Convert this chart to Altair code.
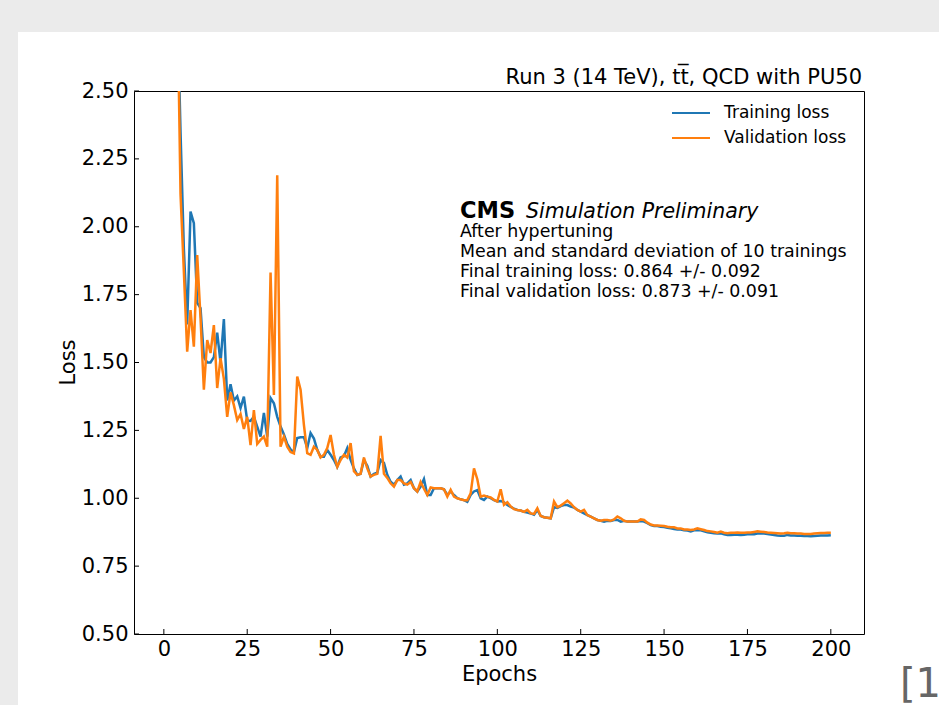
import altair as alt
import pandas as pd

epochs = list(range(1, 201))

train_loss = [
    6.0, 4.2, 3.3, 2.85, 2.35, 1.92, 1.64, 2.056, 2.013, 1.72,
    1.70, 1.52, 1.50, 1.50, 1.52, 1.61, 1.50, 1.66, 1.36, 1.42,
    1.36, 1.375, 1.332, 1.374, 1.286, 1.285, 1.30, 1.264, 1.227, 1.314,
    1.227, 1.369, 1.35, 1.30, 1.264, 1.235, 1.20, 1.18, 1.17, 1.222,
    1.225, 1.225, 1.185, 1.24, 1.22, 1.178, 1.153, 1.153, 1.178, 1.16,
    1.141, 1.116, 1.15, 1.155, 1.185, 1.141, 1.11, 1.086, 1.09, 1.141,
    1.12, 1.08, 1.09, 1.094, 1.141, 1.13, 1.086, 1.061, 1.05, 1.067,
    1.08, 1.05, 1.055, 1.067, 1.037, 1.025, 1.043, 1.071, 1.012, 1.012,
    1.037, 1.037, 1.037, 1.033, 1.012, 1.025, 1.012, 1.0, 0.996, 0.993,
    0.987, 1.012, 1.025, 1.03, 1.0, 0.994, 1.006, 1.0, 0.993, 0.988,
    0.99, 0.985, 0.975, 0.968, 0.962, 0.957, 0.955, 0.95, 0.947, 0.944,
    0.939, 0.957, 0.935, 0.930, 0.928, 0.926, 0.967, 0.964, 0.971, 0.975,
    0.975, 0.969, 0.966, 0.957, 0.951, 0.944, 0.938, 0.932, 0.926, 0.920,
    0.917, 0.914, 0.917, 0.916, 0.920, 0.920, 0.914, 0.917, 0.914, 0.914,
    0.914, 0.914, 0.916, 0.914, 0.908, 0.901, 0.898, 0.898, 0.895, 0.894,
    0.891, 0.889, 0.887, 0.885, 0.885, 0.882, 0.881, 0.878, 0.882, 0.883,
    0.882, 0.878, 0.875, 0.873, 0.871, 0.870, 0.871, 0.867, 0.865, 0.865,
    0.866, 0.866, 0.865, 0.866, 0.867, 0.867, 0.867, 0.870, 0.870, 0.870,
    0.868, 0.866, 0.865, 0.863, 0.862, 0.862, 0.865, 0.863, 0.863, 0.862,
    0.862, 0.861, 0.861, 0.860, 0.861, 0.862, 0.863, 0.863, 0.863, 0.864,
]

val_loss = [
    5.8, 4.0, 3.2, 2.9, 2.12, 1.835, 1.54, 1.693, 1.558, 1.896,
    1.663, 1.40, 1.583, 1.535, 1.638, 1.406, 1.516, 1.44, 1.30, 1.39,
    1.343, 1.288, 1.31, 1.255, 1.30, 1.196, 1.325, 1.20, 1.215, 1.227,
    1.19, 1.831, 1.38, 2.19, 1.19, 1.227, 1.19, 1.17, 1.165, 1.448,
    1.40, 1.27, 1.166, 1.16, 1.19, 1.178, 1.15, 1.16, 1.185, 1.233,
    1.16, 1.116, 1.141, 1.16, 1.15, 1.203, 1.10, 1.086, 1.09, 1.15,
    1.11, 1.08, 1.086, 1.09, 1.23, 1.09, 1.075, 1.055, 1.043, 1.067,
    1.067, 1.055, 1.05, 1.06, 1.037, 1.025, 1.06, 1.035, 1.012, 1.04,
    1.037, 1.037, 1.037, 1.033, 1.006, 1.031, 1.006, 1.0, 0.996, 0.993,
    0.993, 1.018, 1.11, 1.07, 1.006, 1.01, 1.006, 1.003, 0.994, 0.988,
    1.033, 0.976, 0.985, 0.97, 0.96, 0.957, 0.955, 0.95, 0.957, 0.944,
    0.942, 0.963, 0.935, 0.930, 0.928, 0.926, 0.988, 0.967, 0.973, 0.982,
    0.991, 0.981, 0.967, 0.957, 0.951, 0.957, 0.938, 0.932, 0.926, 0.920,
    0.917, 0.920, 0.920, 0.917, 0.922, 0.933, 0.926, 0.917, 0.914, 0.914,
    0.914, 0.914, 0.922, 0.920, 0.910, 0.903, 0.900, 0.900, 0.899, 0.898,
    0.895, 0.893, 0.893, 0.889, 0.889, 0.885, 0.885, 0.883, 0.885, 0.889,
    0.886, 0.883, 0.879, 0.878, 0.876, 0.873, 0.877, 0.873, 0.871, 0.873,
    0.873, 0.874, 0.873, 0.873, 0.874, 0.874, 0.876, 0.878, 0.877, 0.876,
    0.874, 0.873, 0.872, 0.871, 0.870, 0.871, 0.873, 0.871, 0.871, 0.870,
    0.870, 0.868, 0.868, 0.868, 0.870, 0.871, 0.872, 0.872, 0.873, 0.873,
]

series_names = ["Training loss", "Validation loss"]
series_colors = ["#1f77b4", "#ff7f0e"]
x_ticks = [0, 25, 50, 75, 100, 125, 150, 175, 200]
y_ticks = [0.5, 0.75, 1.0, 1.25, 1.5, 1.75, 2.0, 2.25, 2.5]
title_text = "Run 3 (14 TeV), tt\u0305, QCD with PU50"
info_lines = [
    "After hypertuning",
    "Mean and standard deviation of 10 trainings",
    "Final training loss: 0.864 +/- 0.092",
    "Final validation loss: 0.873 +/- 0.091",
]

FONT = "DejaVu Sans"
W, H = 730, 543
GREY = "#ebebeb"

xscale = alt.Scale(domain=[-8.95, 209.95], nice=False, zero=False)
yscale = alt.Scale(domain=[0.5, 2.5], nice=False, zero=False)

train_df = pd.DataFrame({"epoch": epochs, "loss": train_loss})
val_df = pd.DataFrame({"epoch": epochs, "loss": val_loss})
one = pd.DataFrame({"a": [0]})

# grey page margins around the white figure
band_top = alt.Chart(one).mark_rect(color=GREY).encode(
    x=alt.value(-140), x2=alt.value(820), y=alt.value(-95), y2=alt.value(-59)
)
band_left = alt.Chart(one).mark_rect(color=GREY).encode(
    x=alt.value(-140), x2=alt.value(-116), y=alt.value(-95), y2=alt.value(620)
)

train_line = alt.Chart(train_df).mark_line(
    color=series_colors[0], strokeWidth=2.5, clip=True
).encode(
    x=alt.X("epoch:Q", scale=xscale,
            axis=alt.Axis(values=x_ticks, title="Epochs", grid=False, domain=False,
                          ticks=False, tickSize=0, labelPadding=4, zindex=2,
                          labelFontSize=21, labelFont=FONT, labelColor="black",
                          titleFontSize=21, titleFont=FONT, titleFontWeight="normal",
                          titleColor="black", titleX=365, titleY=46,
                          titleBaseline="alphabetic", titleAlign="center")),
    y=alt.Y("loss:Q", scale=yscale,
            axis=alt.Axis(values=y_ticks, format=".2f", title="Loss", grid=False,
                          domain=False, ticks=False, tickSize=0, labelPadding=6, zindex=2,
                          labelFontSize=21, labelFont=FONT, labelColor="black",
                          titleFontSize=21, titleFont=FONT, titleFontWeight="normal",
                          titleColor="black", titleX=-60, titleY=271, titleAngle=270,
                          titleBaseline="alphabetic", titleAlign="center")),
)

val_line = alt.Chart(val_df).mark_line(
    color=series_colors[1], strokeWidth=2.5, clip=True
).encode(
    x=alt.X("epoch:Q", scale=xscale),
    y=alt.Y("loss:Q", scale=yscale),
)

xt = alt.Chart(pd.DataFrame({"v": x_ticks})).mark_rule(color="black", strokeWidth=1).encode(
    x=alt.X("v:Q", scale=xscale), y=alt.value(H), y2=alt.value(H - 5)
)
yt = alt.Chart(pd.DataFrame({"w": y_ticks})).mark_rule(color="black", strokeWidth=1).encode(
    y=alt.Y("w:Q", scale=yscale), x=alt.value(0), x2=alt.value(5)
)

layers = [band_top, band_left, train_line, val_line, xt, yt]

# legend
for i, (nm, col) in enumerate(zip(series_names, series_colors)):
    yy = 22 + 25 * i
    layers.append(alt.Chart(one).mark_rule(color=col, strokeWidth=2).encode(
        x=alt.value(538), x2=alt.value(576), y=alt.value(yy)))
    layers.append(alt.Chart(one).mark_text(
        align="left", baseline="middle", font=FONT, fontSize=17, color="black"
    ).encode(x=alt.value(590), y=alt.value(yy), text=alt.value(nm)))

# title
layers.append(alt.Chart(one).mark_text(
    align="right", baseline="alphabetic", font=FONT, fontSize=21, color="black"
).encode(x=alt.value(728), y=alt.value(-7), text=alt.value(title_text)))

# CMS block
layers.append(alt.Chart(one).mark_text(
    align="left", baseline="alphabetic", font=FONT, fontSize=22.5, fontWeight="bold", color="black"
).encode(x=alt.value(326), y=alt.value(127), text=alt.value("CMS")))
layers.append(alt.Chart(one).mark_text(
    align="left", baseline="alphabetic", font=FONT, fontSize=20.5, fontStyle="italic", color="black"
).encode(x=alt.value(392), y=alt.value(127), text=alt.value("Simulation Preliminary")))
for i, line in enumerate(info_lines):
    layers.append(alt.Chart(one).mark_text(
        align="left", baseline="alphabetic", font=FONT, fontSize=17.4, color="black"
    ).encode(x=alt.value(326), y=alt.value(146 + 20 * i), text=alt.value(line)))

# page reference marker at bottom right (cut by the page edge, as in the source)
layers.append(alt.Chart(one).mark_text(
    align="left", baseline="alphabetic", font="DejaVu Sans", fontSize=40, color="#666666"
).encode(x=alt.value(766), y=alt.value(606), text=alt.value("[1]")))

chart = alt.layer(*layers).properties(
    width=W, height=H,
    autosize=alt.AutoSizeParams(type="none"),
    padding={"left": 134, "top": 91, "right": 75, "bottom": 71},
    background="white",
).configure_view(stroke="black", strokeWidth=1)

chart.save("out.html", embed_options={"renderer": "svg", "actions": False})
